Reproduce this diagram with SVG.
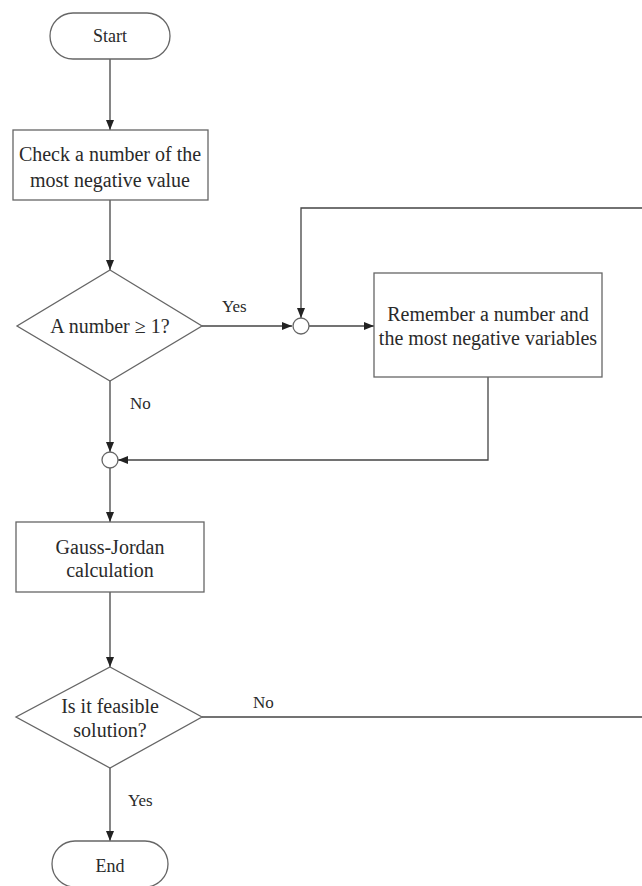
<svg xmlns="http://www.w3.org/2000/svg" width="642" height="886" viewBox="0 0 642 886">
<defs>
<marker id="arr" viewBox="0 0 10 10" refX="10" refY="5" markerWidth="10" markerHeight="10" markerUnits="userSpaceOnUse" orient="auto">
<path d="M0,1 L10,5 L0,9 z" fill="#222"/>
</marker>
<style>
.shape{fill:#fff;stroke:#666;stroke-width:1.3}
.conn{fill:none;stroke:#444;stroke-width:1.3}
.t{font-family:"Liberation Serif","Times New Roman",serif;font-size:20px;fill:#2a2a2a;text-anchor:middle}
.s{font-size:18px}
.lbl{font-family:"Liberation Serif","Times New Roman",serif;font-size:17px;fill:#2a2a2a}
</style>
</defs>
<rect width="642" height="886" fill="#fff"/>
<g id="connectors">
<line class="conn" x1="110" y1="59" x2="110" y2="130" marker-end="url(#arr)"/>
<line class="conn" x1="110" y1="200" x2="110" y2="270" marker-end="url(#arr)"/>
<line class="conn" x1="202" y1="326" x2="292" y2="326" marker-end="url(#arr)"/>
<polyline class="conn" points="642,208 301,208 301,318" marker-end="url(#arr)"/>
<line class="conn" x1="309" y1="326" x2="374" y2="326" marker-end="url(#arr)"/>
<polyline class="conn" points="488,377 488,460 118,460" marker-end="url(#arr)"/>
<line class="conn" x1="110" y1="381" x2="110" y2="452" marker-end="url(#arr)"/>
<line class="conn" x1="110" y1="468" x2="110" y2="522" marker-end="url(#arr)"/>
<line class="conn" x1="110" y1="592" x2="110" y2="667" marker-end="url(#arr)"/>
<line class="conn" x1="202" y1="717" x2="642" y2="717"/>
<line class="conn" x1="110" y1="768" x2="110" y2="841" marker-end="url(#arr)"/>
<text class="lbl" x="222" y="312">Yes</text>
<text class="lbl" x="130" y="409">No</text>
<text class="lbl" x="253" y="708">No</text>
<text class="lbl" x="128" y="806">Yes</text>
</g>
<g id="start">
<rect class="shape" x="50" y="13" width="120" height="46" rx="23"/>
<text class="t s" x="110" y="42">Start</text>
</g>
<g id="check">
<rect class="shape" x="13" y="130" width="195" height="70"/>
<text class="t" x="110" y="161">Check a number of the</text>
<text class="t" x="110" y="187">most negative value</text>
</g>
<g id="decision1">
<polygon class="shape" points="110,270 202,326 110,381 17,326"/>
<text class="t" x="110" y="333">A number ≥ 1?</text>
</g>
<g id="junction1">
<circle class="shape" cx="301" cy="326" r="8"/>
</g>
<g id="remember">
<rect class="shape" x="374" y="273" width="228" height="104"/>
<text class="t" x="488" y="321">Remember a number and</text>
<text class="t" x="488" y="345">the most negative variables</text>
</g>
<g id="junction2">
<circle class="shape" cx="110" cy="460" r="8"/>
</g>
<g id="gauss">
<rect class="shape" x="16" y="522" width="188" height="70"/>
<text class="t" x="110" y="554">Gauss-Jordan</text>
<text class="t" x="110" y="577">calculation</text>
</g>
<g id="decision2">
<polygon class="shape" points="110,667 202,717 110,768 16,717"/>
<text class="t" x="110" y="713">Is it feasible</text>
<text class="t" x="110" y="737">solution?</text>
</g>
<g id="end">
<rect class="shape" x="52" y="841" width="116" height="46" rx="23"/>
<text class="t s" x="110" y="872">End</text>
</g>
</svg>
